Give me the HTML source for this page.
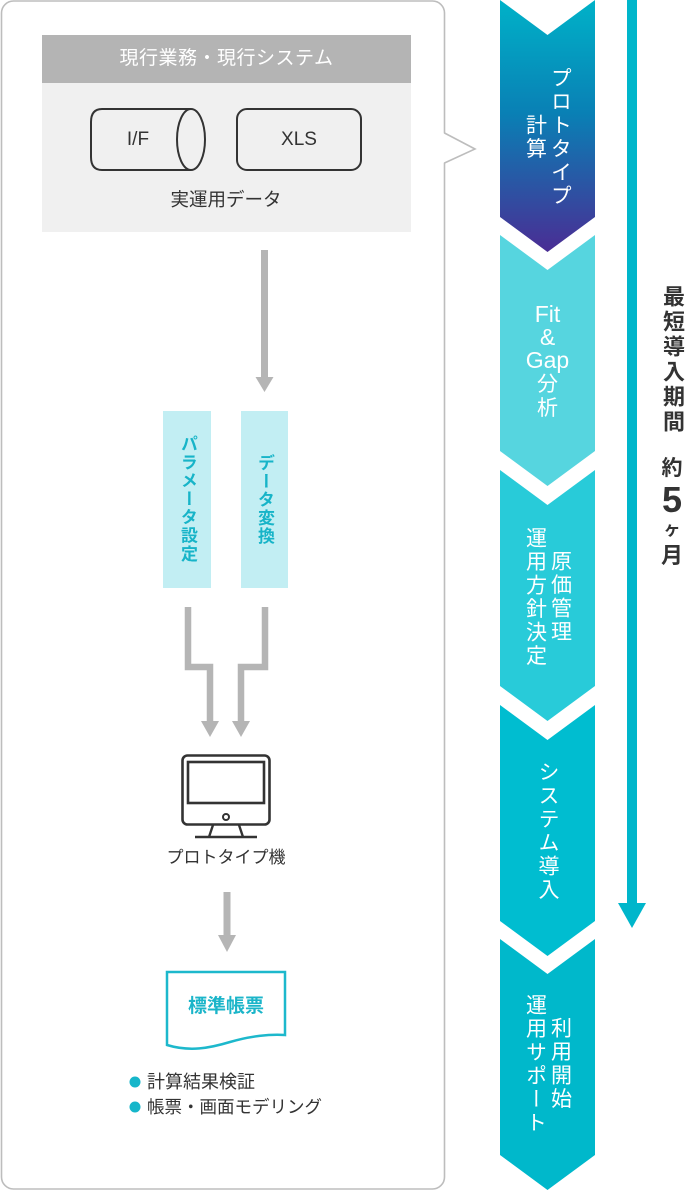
<!DOCTYPE html>
<html>
<head>
<meta charset="utf-8">
<style>
  html,body{margin:0;padding:0;background:#fff;}
  body{width:690px;height:1202px;position:relative;overflow:hidden;
    font-family:"Liberation Sans","Noto Sans CJK JP",sans-serif;}
  svg{position:absolute;left:0;top:0;}
  .t{position:absolute;white-space:nowrap;}
  .c{text-align:center;}
  .v{writing-mode:vertical-rl;text-align:center;}
  .w{color:#fff;}
</style>
</head>
<body>
<svg width="690" height="1202" viewBox="0 0 690 1202">
  <defs>
    <linearGradient id="g1" x1="0" y1="0" x2="0" y2="1">
      <stop offset="0" stop-color="#00b2c8"/>
      <stop offset="0.45" stop-color="#0980b5"/>
      <stop offset="1" stop-color="#4a2d94"/>
    </linearGradient>
  </defs>
  <!-- outer speech box -->
  <rect x="1.5" y="1" width="443" height="1188" rx="12" ry="12" fill="#fff" stroke="#bdbdbd" stroke-width="1.6"/>
  <polygon points="443,133 475,149 443,163" fill="#fff"/>
  <polyline points="444.5,133 475,149 444.5,163" fill="none" stroke="#bdbdbd" stroke-width="1.6"/>

  <!-- gray box -->
  <rect x="42" y="35" width="369" height="48" fill="#b4b4b4"/>
  <rect x="42" y="83" width="369" height="149" fill="#f0f0f0"/>
  <!-- cylinder -->
  <path d="M191,109 H102 Q91,109 91,122 V157 Q91,170 102,170 H191" fill="none" stroke="#333" stroke-width="2"/>
  <ellipse cx="191" cy="139.5" rx="14" ry="30.5" fill="none" stroke="#333" stroke-width="2"/>
  <!-- XLS -->
  <rect x="237" y="109" width="124" height="61" rx="10" ry="10" fill="none" stroke="#333" stroke-width="2"/>

  <!-- arrow 1 -->
  <rect x="261" y="250" width="7" height="129" fill="#b5b5b5"/>
  <polygon points="255.5,377 273.5,377 264.5,392" fill="#b5b5b5"/>

  <!-- blue boxes -->
  <rect x="163" y="411" width="48" height="177" fill="#c2eef3"/>
  <rect x="241" y="411" width="47" height="177" fill="#c2eef3"/>

  <!-- lower connectors -->
  <polyline points="188,607 188,667 210,667 210,723" fill="none" stroke="#b5b5b5" stroke-width="6.5" stroke-linejoin="miter"/>
  <polygon points="201,721 219,721 210,737" fill="#b5b5b5"/>
  <polyline points="265,607 265,667 241,667 241,723" fill="none" stroke="#b5b5b5" stroke-width="6.5" stroke-linejoin="miter"/>
  <polygon points="232,721 250,721 241,737" fill="#b5b5b5"/>

  <!-- monitor -->
  <rect x="182.5" y="755.5" width="87" height="69" rx="5" ry="5" fill="none" stroke="#333" stroke-width="2.6"/>
  <rect x="188" y="762" width="76" height="41" fill="none" stroke="#333" stroke-width="2.6"/>
  <circle cx="226" cy="817" r="3" fill="none" stroke="#333" stroke-width="2"/>
  <line x1="213" y1="825" x2="209" y2="837" stroke="#333" stroke-width="2.4"/>
  <line x1="239" y1="825" x2="243" y2="837" stroke="#333" stroke-width="2.4"/>
  <line x1="195" y1="837" x2="257" y2="837" stroke="#333" stroke-width="2.6"/>

  <!-- arrow 3 -->
  <rect x="223.5" y="892" width="7" height="45" fill="#b5b5b5"/>
  <polygon points="218,935 236,935 227,952" fill="#b5b5b5"/>

  <!-- document -->
  <path d="M167,972 H285 V1035 C270,1034 250,1036 230,1042 C210,1048 190,1052 167,1045 Z" fill="#fff" stroke="#1db8cc" stroke-width="2.5" stroke-linejoin="miter"/>

  <!-- bullets -->
  <circle cx="135" cy="1082" r="5.5" fill="#16b6ca"/>
  <circle cx="135" cy="1107" r="5.5" fill="#16b6ca"/>

  <!-- chevrons -->
  <path d="M500,0 L547.5,35 L595,0 V217 L547.5,252 L500,217 Z" fill="url(#g1)"/>
  <path d="M500,235 L547.5,270 L595,235 V451 L547.5,486 L500,451 Z" fill="#56d5df"/>
  <path d="M500,470 L547.5,505 L595,470 V686 L547.5,721 L500,686 Z" fill="#28cbd9"/>
  <path d="M500,705 L547.5,740 L595,705 V921 L547.5,956 L500,921 Z" fill="#00bdd0"/>
  <path d="M500,939 L547.5,974 L595,939 V1155 L547.5,1190 L500,1155 Z" fill="#00b8cb"/>

  <!-- vertical timeline arrow -->
  <rect x="627" y="0" width="10" height="905" fill="#00b6cb"/>
  <polygon points="618,903 646,903 632,928" fill="#00b6cb"/>
</svg>

<!-- left texts -->
<div class="t c w" style="left:42px;top:35px;width:369px;height:48px;line-height:48px;font-size:19px;letter-spacing:0.5px;">現行業務・現行システム</div>
<div class="t c" style="left:108px;top:129px;width:60px;line-height:22px;font-size:19px;color:#333;">I/F</div>
<div class="t c" style="left:259px;top:129px;width:80px;line-height:22px;font-size:19px;color:#333;">XLS</div>
<div class="t c" style="left:126px;top:188px;width:200px;line-height:24px;font-size:18.5px;color:#333;">実運用データ</div>

<div class="t v" style="left:163px;top:411px;width:48px;height:177px;line-height:48px;font-size:17px;font-weight:700;letter-spacing:1.3px;color:#17b4c8;">パラメータ設定</div>
<div class="t v" style="left:241px;top:411px;width:47px;height:177px;line-height:47px;font-size:17px;font-weight:700;letter-spacing:1.3px;color:#17b4c8;">データ変換</div>

<div class="t c" style="left:126px;top:846px;width:200px;line-height:24px;font-size:17px;color:#333;">プロトタイプ機</div>
<div class="t c" style="left:167px;top:995px;width:118px;line-height:24px;font-size:19px;font-weight:700;color:#1bb5c9;">標準帳票</div>
<div class="t" style="left:147px;top:1070px;line-height:24px;font-size:18px;color:#333;">計算結果検証</div>
<div class="t" style="left:147px;top:1095px;line-height:24px;font-size:17.5px;color:#333;">帳票・画面モデリング</div>

<!-- chevron texts -->
<div class="t v w" style="left:522.5px;top:37px;width:50px;height:200px;line-height:25px;font-size:21px;letter-spacing:2.5px;">プロトタイプ<br>計算</div>
<div class="t c w" style="left:495px;top:303px;width:105px;line-height:23px;font-size:23px;">Fit<br>&amp;<br>Gap<br><span style="font-size:21px;">分</span><br><span style="font-size:21px;">析</span></div>
<div class="t v w" style="left:522.5px;top:497px;width:50px;height:200px;line-height:25px;font-size:21px;letter-spacing:2.5px;">原価管理<br>運用方針決定</div>
<div class="t v w" style="left:535px;top:731px;width:25px;height:200px;line-height:25px;font-size:21px;letter-spacing:2.5px;">システム導入</div>
<div class="t v w" style="left:522.5px;top:964px;width:50px;height:200px;line-height:25px;font-size:21px;letter-spacing:2.5px;">利用開始<br>運用サポート</div>

<!-- right vertical label -->
<div class="t v" style="left:659px;top:285px;width:26px;line-height:26px;font-size:22px;font-weight:700;letter-spacing:3px;color:#333;">最短導入期間</div>
<div class="t c" style="left:652px;top:456px;width:40px;line-height:26px;font-size:21px;font-weight:700;color:#333;">約</div>
<div class="t c" style="left:652px;top:480px;width:40px;line-height:40px;font-size:36px;font-weight:700;color:#333;">5</div>
<div class="t c" style="left:652px;top:520px;width:40px;line-height:20px;font-size:17px;font-weight:700;color:#333;">ヶ</div>
<div class="t c" style="left:652px;top:543px;width:40px;line-height:26px;font-size:22px;font-weight:700;color:#333;">月</div>
</body>
</html>
